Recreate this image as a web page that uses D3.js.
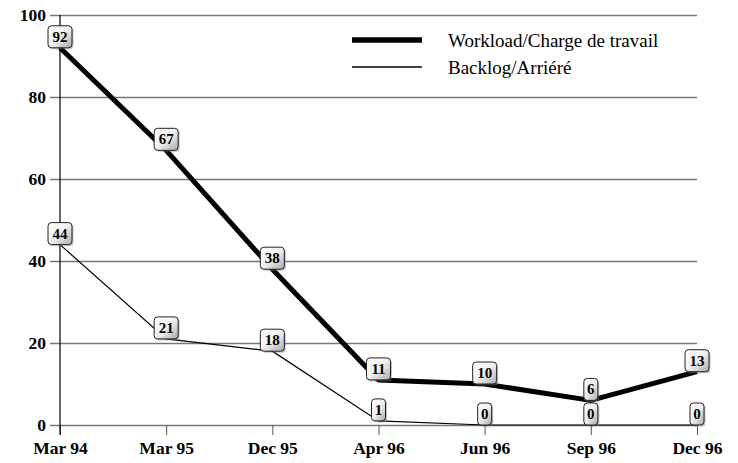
<!DOCTYPE html>
<html>
<head>
<meta charset="utf-8">
<script src="https://cdn.jsdelivr.net/npm/d3@7"></script>
<style>
  html, body { margin: 0; padding: 0; background: #fff; }
  svg { display: block; }
  svg text { font-family: "Liberation Serif", "Times New Roman", Times, serif; }
  .tick text { font-weight: bold; font-size: 17.5px; fill: #000; }
</style>
</head>
<body>
<svg id="chart" width="738" height="463"></svg>
<script>
// Quarterly reporting periods
const periods = ["Mar 94", "Mar 95", "Dec 95", "Apr 96", "Jun 96", "Sep 96", "Dec 96"];
// Workload and backlog counts per period
const workload = [92, 67, 38, 11, 10, 6, 13];
const backlog = [44, 21, 18, 1, 0, 0, 0];
const yTicks = [0, 20, 40, 60, 80, 100];
const seriesNames = ["Workload/Charge de travail", "Backlog/Arriéré"];

const serif = "'Liberation Serif', 'Times New Roman', Times, serif";
const svg = d3.select("#chart");
const margin = { left: 60, right: 41, top: 15, bottom: 38 };
const W = 738, H = 463;

const x = d3.scalePoint().domain(periods).range([margin.left, W - margin.right]);
const y = d3.scaleLinear().domain([0, 100]).range([H - margin.bottom, margin.top]);

const defs = svg.append("defs");
const grad = defs.append("linearGradient").attr("id", "boxFill")
  .attr("x1", "0").attr("y1", "0").attr("x2", "1").attr("y2", "1");
grad.append("stop").attr("offset", "0").attr("stop-color", "#ffffff");
grad.append("stop").attr("offset", "0.5").attr("stop-color", "#f0f0f0");
grad.append("stop").attr("offset", "1").attr("stop-color", "#a8a8a8");

// Horizontal gridlines with the y axis labels
const yAxis = d3.axisLeft(y).tickValues(yTicks).tickSize(-(W - margin.right - margin.left)).tickPadding(14);
const gy = svg.append("g").attr("transform", `translate(${margin.left},0)`).call(yAxis);
gy.attr("font-family", null).attr("font-size", null);
gy.select(".domain").remove();
gy.selectAll(".tick line").attr("stroke", "#777").attr("stroke-width", 1.3).attr("x1", -10);
gy.selectAll(".tick text").style("font-family", serif);

// Category axis along the bottom
const xAxis = d3.axisBottom(x).tickSize(10).tickPadding(7);
const gx = svg.append("g").attr("transform", `translate(0,${y(0)})`).call(xAxis);
gx.attr("font-family", null).attr("font-size", null);
gx.select(".domain").remove();
gx.selectAll(".tick line").attr("stroke", "#555").attr("stroke-width", 1);
gx.selectAll(".tick text").style("font-family", serif);

// Vertical axis line
svg.append("line")
  .attr("x1", margin.left).attr("x2", margin.left)
  .attr("y1", y(100)).attr("y2", y(0) + 10)
  .attr("stroke", "#000").attr("stroke-width", 1.2);

const line = d3.line().x((d, i) => x(periods[i])).y(d => y(d));

svg.append("path").datum(backlog).attr("d", line)
  .attr("fill", "none").attr("stroke", "#000").attr("stroke-width", 1.2);
svg.append("path").datum(workload).attr("d", line)
  .attr("fill", "none").attr("stroke", "#000").attr("stroke-width", 5).attr("stroke-linejoin", "round");

// Value labels in rounded boxes sitting on top of each point
function drawLabels(values) {
  const g = svg.append("g");
  values.forEach((v, i) => {
    const cx = x(periods[i]);
    const by = y(v);
    const txt = String(v);
    const w = txt.length > 1 ? 24 : 14;
    const h = 22;
    const lg = g.append("g");
    lg.append("rect")
      .attr("x", cx - w / 2 + 1.5).attr("y", by - h + 1.5)
      .attr("width", w).attr("height", h).attr("rx", 3.5)
      .attr("fill", "#777").attr("opacity", 0.45);
    lg.append("rect")
      .attr("x", cx - w / 2).attr("y", by - h)
      .attr("width", w).attr("height", h).attr("rx", 3.5)
      .attr("fill", "url(#boxFill)").attr("stroke", "#222").attr("stroke-width", 1);
    lg.append("text")
      .attr("x", cx).attr("y", by - h / 2 + 5)
      .attr("text-anchor", "middle")
      .style("font-family", serif)
      .attr("font-weight", "bold").attr("font-size", 15)
      .text(txt);
  });
}
drawLabels(backlog);
drawLabels(workload);

// Legend
const legend = svg.append("g");
[5.5, 1.5].forEach((sw, i) => {
  const ly = 40 + i * 27;
  legend.append("line")
    .attr("x1", 352).attr("x2", 422).attr("y1", ly).attr("y2", ly)
    .attr("stroke", "#000").attr("stroke-width", sw);
  legend.append("text")
    .attr("x", 448).attr("y", ly + 7)
    .style("font-family", serif)
    .attr("font-size", 19)
    .text(seriesNames[i]);
});
</script>
</body>
</html>
